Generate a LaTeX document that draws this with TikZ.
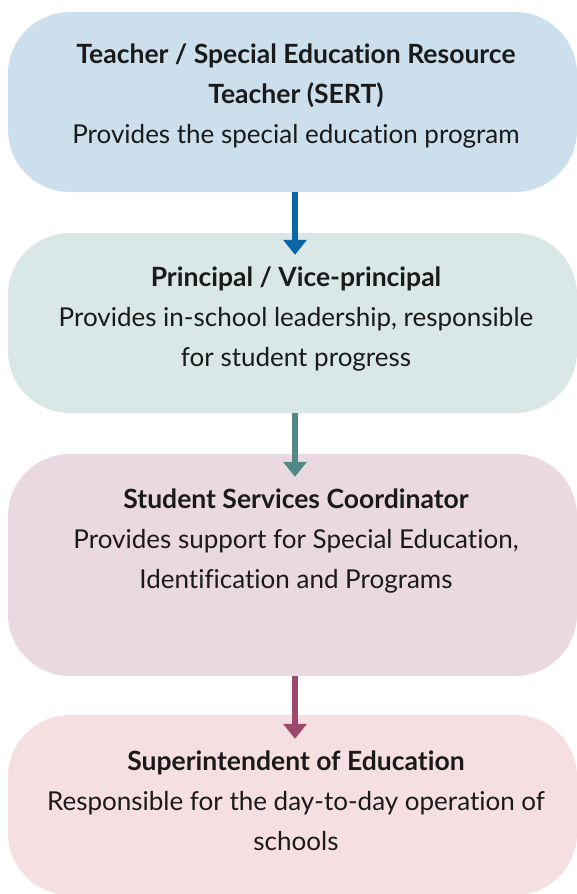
\documentclass[tikz,border=0pt]{standalone}
\usepackage{fontspec}
\setmainfont{Lato}[Ligatures=NoCommon]
\usetikzlibrary{arrows.meta}
\definecolor{boxA}{HTML}{CCDFEC}
\definecolor{boxB}{HTML}{DAE7E7}
\definecolor{boxC}{HTML}{EAD9E1}
\definecolor{boxD}{HTML}{F5DFE1}
\definecolor{arrA}{HTML}{0B66A6}
\definecolor{arrB}{HTML}{4F8A87}
\definecolor{arrC}{HTML}{9E486E}
\definecolor{txt}{HTML}{1A1A1A}
\tikzset{
  pill/.style={rectangle, rounded corners=62pt, draw=none, inner sep=0pt,
    minimum width=569pt},
  ttl/.style={anchor=base, inner sep=0pt, text=txt, font=\fontsize{26.5}{30}\selectfont\bfseries},
  dsc/.style={anchor=base, inner sep=0pt, text=txt, font=\fontsize{26}{30}\selectfont},
  link/.style={line width=5.5pt, -{Triangle[width=23pt,length=15pt]}}
}
\begin{document}
\begin{tikzpicture}[x=1pt,y=-1pt]
\useasboundingbox (0,0) rectangle (577,894);
\node[pill, fill=boxA, minimum height=180pt] (b1) at (292.5,102) {};
\node[pill, fill=boxB, minimum height=180pt] (b2) at (292.5,323) {};
\node[pill, fill=boxC, minimum height=222pt] (b3) at (292.5,565) {};
\node[pill, fill=boxD, minimum height=180pt] (b4) at (292.5,805) {};

\node[ttl] (t1a) at (296,63) {Teacher / Special Education Resource};
\node[ttl] (t1b) at (296,103) {Teacher (SERT)};
\node[dsc] (d1) at (296,143) {Provides the special education program};

\node[ttl] (t2) at (296,286) {Principal / Vice-principal};
\node[dsc] (d2a) at (296,326) {Provides in-school leadership, responsible};
\node[dsc] (d2b) at (296,366) {for student progress};

\node[ttl] (t3) at (296,508) {Student Services Coordinator};
\node[dsc] (d3a) at (296,548) {Provides support for Special Education,};
\node[dsc] (d3b) at (296,588) {Identification and Programs};

\node[ttl] (t4) at (296,770) {Superintendent of Education};
\node[dsc] (d4a) at (296,810) {Responsible for the day-to-day operation of};
\node[dsc] (d4b) at (296,850) {schools};

\draw[link, arrA] ([xshift=2.5pt]b1.south) -- ([xshift=2.5pt,yshift=-22pt]b2.north);
\draw[link, arrB] ([xshift=2.5pt]b2.south) -- ([xshift=2.5pt,yshift=-23pt]b3.north);
\draw[link, arrC] ([xshift=2.5pt]b3.south) -- ([xshift=2.5pt,yshift=-24pt]b4.north);
\end{tikzpicture}
\end{document}
